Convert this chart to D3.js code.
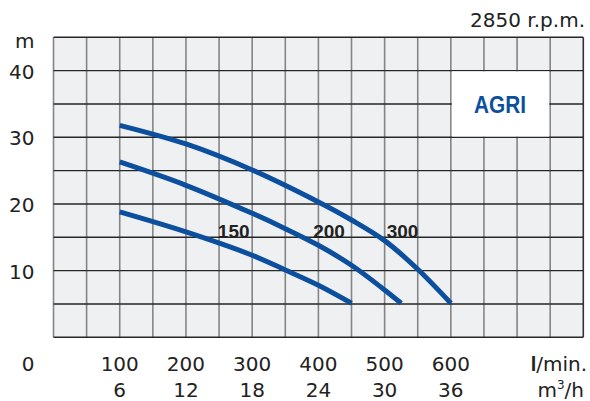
<!DOCTYPE html>
<html><head><meta charset="utf-8">
<script src="https://cdn.jsdelivr.net/npm/d3@7"></script>
<style>body{margin:0;background:#fff}svg{display:block}</style>
</head><body>
<svg id="c" width="590" height="401"></svg>
<script>
// ---- data ----
const xTicksLmin = [100, 200, 300, 400, 500, 600];
const xTicksM3h = ["6", "12", "18", "24", "30", "36"];
const yTicks = [10, 20, 30, 40];
const curveNames = ["150", "200", "300"];
const curve150 = [[100,18.8],[200,15.8],[300,12.3],[350,10.1],[400,7.8],[450,5.1]];
const curve200 = [[100,26.3],[200,22.8],[300,18.6],[350,16.3],[400,13.8],[450,10.8],[500,7.1],[525,5.1]];
const curve300 = [[100,31.8],[200,29.0],[300,25.1],[400,20.3],[450,17.6],[500,14.5],[550,10.2],[600,5.1]];
const labelPos = [[296,14.9],[440,14.9],[551,14.9]]; // label end position in data units
const speedLabel = "2850 r.p.m.";
const brand = "AGRI";

const svg = d3.select("#c");
const L = 53.5, R = 583.3, T = 37.3, B = 337.3;
const x = d3.scaleLinear().domain([0, 800]).range([L, R]);
const y = d3.scaleLinear().domain([0, 45]).range([B, T]);
const font = "'DejaVu Sans', sans-serif";
const blue = "#0b4f9e";

// background
svg.append("rect").attr("x", L).attr("y", T).attr("width", R - L).attr("height", B - T).attr("fill", "#eff0f2");

// vertical grid
const vx = d3.range(0, 801, 50);
svg.append("g").selectAll("line").data(vx).join("line")
  .attr("x1", d => x(d)).attr("x2", d => x(d))
  .attr("y1", T).attr("y2", B)
  .attr("stroke", d => (d === 800 ? "#333" : "#858585")).attr("stroke-width", 1.6);
// horizontal grid
const hy = d3.range(0, 46, 5);
svg.append("g").selectAll("line").data(hy).join("line")
  .attr("x1", L).attr("x2", R)
  .attr("y1", d => y(d)).attr("y2", d => y(d))
  .attr("stroke", "#262626").attr("stroke-width", 1.4);

// brand box (600..750, 30..40)
svg.append("rect").attr("x", x(600) + 1).attr("y", y(40) + 0.8).attr("width", x(750) - x(600) - 2).attr("height", y(30) - y(40) - 1.6).attr("fill", "#fff");
svg.append("text").attr("x", (x(600) + x(750)) / 2 - 0.5).attr("y", y(35) + 9)
  .attr("text-anchor", "middle").attr("font-family", "'Liberation Sans', sans-serif")
  .attr("font-weight", "bold").attr("font-size", 24).attr("fill", blue)
  .attr("textLength", 52).attr("lengthAdjust", "spacingAndGlyphs").text(brand);

// curves
const line = d3.line().x(d => x(d[0])).y(d => y(d[1])).curve(d3.curveCatmullRom.alpha(0.5));
[curve150, curve200, curve300].forEach(c => {
  svg.append("path").attr("d", line(c)).attr("fill", "none").attr("stroke", blue).attr("stroke-width", 5);
});
// curve labels
curveNames.forEach((n, i) => {
  svg.append("text").attr("x", x(labelPos[i][0])).attr("y", y(labelPos[i][1]))
    .attr("text-anchor", "end").attr("font-family", "'Liberation Sans', sans-serif").attr("font-weight", "bold")
    .attr("font-size", 19).attr("fill", "#222").text(n);
});

// y axis labels
const txt = (sel) => sel.attr("font-family", font).attr("fill", "#222");
svg.append("g").selectAll("text").data(yTicks).join("text").call(txt)
  .attr("x", 34.5).attr("y", d => y(d) + 8).attr("text-anchor", "end").attr("font-size", 20).text(d => d);
svg.append("text").call(txt).attr("x", 34.5).attr("y", 47.5).attr("text-anchor", "end").attr("font-size", 20).text("m");
svg.append("text").call(txt).attr("x", 34.5).attr("y", 370.5).attr("text-anchor", "end").attr("font-size", 20).text("0");

// x labels
svg.append("g").selectAll("text").data(xTicksLmin).join("text").call(txt)
  .attr("x", d => x(d)).attr("y", 370.5).attr("text-anchor", "middle").attr("font-size", 20).text(d => d);
svg.append("g").selectAll("text").data(xTicksM3h).join("text").call(txt)
  .attr("x", (d, i) => x(xTicksLmin[i])).attr("y", 396.5).attr("text-anchor", "middle").attr("font-size", 20).text(d => d);

const u1 = svg.append("text").call(txt).attr("x", 587).attr("y", 370.5).attr("text-anchor", "end").attr("font-size", 20);
u1.append("tspan").attr("font-weight", "bold").attr("font-family", "'Liberation Sans', sans-serif").text("l");
u1.append("tspan").text("/min.");
const u2 = svg.append("text").call(txt).attr("x", 584).attr("y", 396.5).attr("text-anchor", "end").attr("font-size", 20);
u2.append("tspan").text("m");
u2.append("tspan").attr("font-size", 12).attr("dy", -8).text("3");
u2.append("tspan").attr("dy", 8).text("/h");

svg.append("text").call(txt).attr("x", 585).attr("y", 27).attr("text-anchor", "end").attr("font-size", 20).text(speedLabel);
</script>
</body></html>
